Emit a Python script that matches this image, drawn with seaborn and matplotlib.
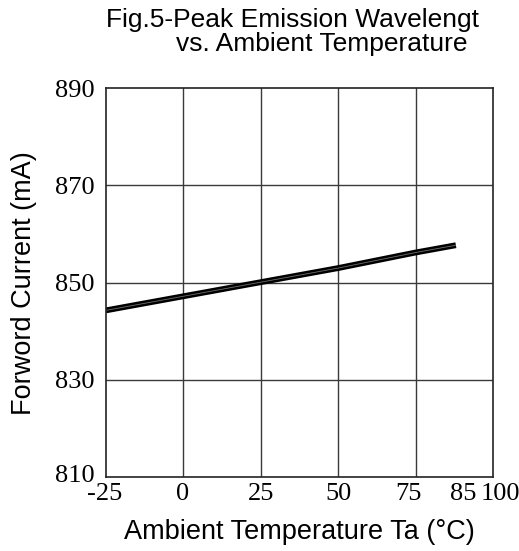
import pandas as pd
import seaborn as sns
import matplotlib.pyplot as plt
from matplotlib.transforms import ScaledTranslation

# values
temp = [-25, 0, 25, 50, 75, 88]
wavelength = [844.3, 847.2, 850.1, 853.0, 856.2, 857.7]
x_ticks = [-25, 0, 25, 50, 75, 85, 100]
y_ticks = [810, 830, 850, 870, 890]
grid_x = [0, 25, 50, 75]

df = pd.DataFrame({'temp': temp, 'wl': wavelength})

sns.set_style('white')
plt.rcParams['font.family'] = ['Liberation Sans', 'DejaVu Sans']
plt.rcParams['text.color'] = 'black'
plt.rcParams['axes.labelcolor'] = 'black'
plt.rcParams['xtick.color'] = 'black'
plt.rcParams['ytick.color'] = 'black'

fig = plt.figure(figsize=(5.19, 5.51), dpi=100)
ax = fig.add_axes([0.204, 0.134, 0.746, 0.706])

# double stroke look of the curve
sns.lineplot(data=df, x='temp', y='wl', ax=ax, color='black', linewidth=4.2,
             solid_capstyle='butt')
sns.lineplot(data=df, x='temp', y='wl', ax=ax, color='#707070', linewidth=0.6,
             solid_capstyle='butt')

for gx in grid_x:
    ax.axvline(gx, color='#3a3a3a', linewidth=1.0, zorder=0)
for gy in y_ticks[1:-1]:
    ax.axhline(gy, color='#3a3a3a', linewidth=1.0, zorder=0)

ax.set_xlim(-25, 100)
ax.set_ylim(810, 890)
ax.set_xticks(x_ticks)
ax.set_yticks(y_ticks)
ax.set_xticklabels([str(t) for t in x_ticks], family='Liberation Serif', fontsize=19)
ax.set_yticklabels([str(t) for t in y_ticks], family='Liberation Serif', fontsize=19)
ax.tick_params(axis='both', length=0)
ax.tick_params(axis='x', pad=4)
ax.tick_params(axis='y', pad=8)

# the printed labels sit a little off their ticks (75 / 85 / 100 spread apart)
shift_px = [-1, -1, 0, 0, -7, 17, 7]
for lab, dx in zip(ax.get_xticklabels(), shift_px):
    lab.set_transform(lab.get_transform() + ScaledTranslation(dx / 100, 0, fig.dpi_scale_trans))
# bottom y label sits slightly above the axis corner
lab810 = ax.get_yticklabels()[0]
lab810.set_transform(lab810.get_transform() + ScaledTranslation(0, 4 / 100, fig.dpi_scale_trans))

for s in ax.spines.values():
    s.set_color('#222222')
    s.set_linewidth(1.2)

ax.set_xlabel('Ambient Temperature Ta (°C)', fontsize=19.5, labelpad=10)
ax.set_ylabel('Forword Current (mA)', fontsize=19.5, labelpad=13)

fig.text(293 / 519, 1 - 27 / 551, 'Fig.5-Peak Emission Wavelengt', fontsize=19,
         ha='center', va='baseline')
fig.text(322 / 519, 1 - 51 / 551, 'vs. Ambient Temperature', fontsize=19,
         ha='center', va='baseline')

fig.savefig('out.png', dpi=100)
